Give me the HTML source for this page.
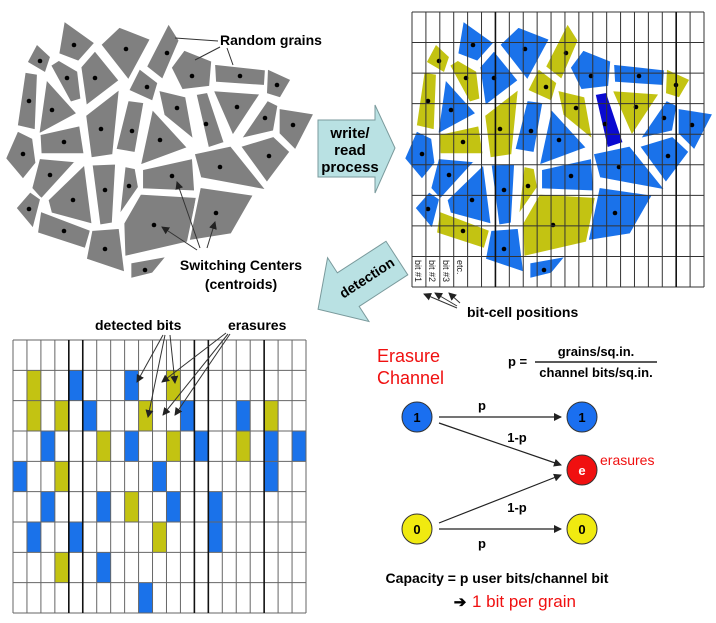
<!DOCTYPE html>
<html><head><meta charset="utf-8"><style>
html,body{margin:0;padding:0;background:#fff;}
svg{display:block;font-family:"Liberation Sans",Arial,sans-serif;}
.b{font-weight:bold;}
</style></head><body>
<svg id="s" width="716" height="623" viewBox="0 0 716 623" xmlns="http://www.w3.org/2000/svg">
<defs>
<marker id="ah" markerWidth="8" markerHeight="8" refX="7" refY="4" orient="auto" markerUnits="userSpaceOnUse"><path d="M0,0 L8,4 L0,8 z" fill="#222"/></marker>
</defs>
<g id="grainsL"></g>
<g id="grainsR"></g>
<g id="gridR"></g>
<g id="gridL"></g>

<text x="220" y="45" class="b" font-size="14">Random grains</text>
<g stroke="#333" stroke-width="1" fill="none">
<line x1="218" y1="41" x2="175" y2="38"/>
<line x1="220" y1="47" x2="195" y2="60"/>
<line x1="227" y1="48" x2="233" y2="65"/>
<line x1="197" y1="250" x2="162" y2="227" marker-end="url(#ah)"/>
<line x1="200" y1="248" x2="177" y2="182" marker-end="url(#ah)"/>
<line x1="207" y1="248" x2="215" y2="222" marker-end="url(#ah)"/>
</g>
<text x="241" y="270" class="b" font-size="14" text-anchor="middle">Switching Centers</text>
<text x="241" y="289" class="b" font-size="14" text-anchor="middle">(centroids)</text>

<polygon points="318,120 375,120 375,105 395,148 375,193 375,177 318,177" fill="#b9e1e3" stroke="#7a9a9c" stroke-width="1"/>
<text x="350" y="138" class="b" font-size="15" text-anchor="middle">write/</text>
<text x="350" y="155" class="b" font-size="15" text-anchor="middle">read</text>
<text x="350" y="172" class="b" font-size="15" text-anchor="middle">process</text>

<g transform="translate(360,282) rotate(-33)">
<polygon points="44,-20 -14,-20 -14,-38 -50,0 -14,38 -14,20 44,20" fill="#b9e1e3" stroke="#7a9a9c" stroke-width="1"/>
<text x="8" y="5" class="b" font-size="14" text-anchor="middle">detection</text>
</g>

<g font-size="9" fill="#222">
<text transform="translate(415,260) rotate(90)">bit #1</text>
<text transform="translate(429,260) rotate(90)">bit #2</text>
<text transform="translate(443,260) rotate(90)">bit #3</text>
<text transform="translate(457,260) rotate(90)">etc.</text>
</g>
<g stroke="#333" stroke-width="1">
<line x1="457" y1="308" x2="424" y2="294" marker-end="url(#ah)"/>
<line x1="457" y1="306" x2="435" y2="293" marker-end="url(#ah)"/>
<line x1="460" y1="303" x2="449" y2="293" marker-end="url(#ah)"/>
</g>
<text x="467" y="317" class="b" font-size="14">bit-cell positions</text>

<text x="95" y="330" class="b" font-size="14">detected bits</text>
<text x="228" y="330" class="b" font-size="14">erasures</text>
<g stroke="#333" stroke-width="1">
<line x1="163" y1="335" x2="137" y2="382" marker-end="url(#ah)"/>
<line x1="165" y1="335" x2="148" y2="417" marker-end="url(#ah)"/>
<line x1="170" y1="335" x2="175" y2="383" marker-end="url(#ah)"/>
<line x1="226" y1="333" x2="162" y2="382" marker-end="url(#ah)"/>
<line x1="228" y1="334" x2="163" y2="415" marker-end="url(#ah)"/>
<line x1="230" y1="334" x2="175" y2="415" marker-end="url(#ah)"/>
</g>

<text x="377" y="362" font-size="18" fill="#f01010">Erasure</text>
<text x="377" y="384" font-size="18" fill="#f01010">Channel</text>
<text x="508" y="366" class="b" font-size="13">p =</text>
<text x="596" y="356" class="b" font-size="13" text-anchor="middle">grains/sq.in.</text>
<line x1="535" y1="362" x2="657" y2="362" stroke="#222" stroke-width="1.5"/>
<text x="596" y="377" class="b" font-size="13" text-anchor="middle">channel bits/sq.in.</text>

<g stroke="#222" stroke-width="1.2">
<line x1="439" y1="417" x2="561" y2="417" marker-end="url(#ah)"/>
<line x1="439" y1="423" x2="561" y2="465" marker-end="url(#ah)"/>
<line x1="439" y1="523" x2="561" y2="475" marker-end="url(#ah)"/>
<line x1="439" y1="529" x2="561" y2="529" marker-end="url(#ah)"/>
</g>
<g stroke="#333" stroke-width="1">
<circle cx="417" cy="417" r="15" fill="#1a6ff0"/>
<circle cx="582" cy="417" r="15" fill="#1a6ff0"/>
<circle cx="582" cy="470" r="15" fill="#f01010"/>
<circle cx="417" cy="529" r="15" fill="#f0ea10"/>
<circle cx="582" cy="529" r="15" fill="#f0ea10"/>
</g>
<g class="b" font-size="13" text-anchor="middle">
<text x="417" y="422">1</text>
<text x="582" y="422">1</text>
<text x="582" y="475" fill="#fff">e</text>
<text x="417" y="534">0</text>
<text x="582" y="534">0</text>
<text x="482" y="410">p</text>
<text x="517" y="442">1-p</text>
<text x="517" y="512">1-p</text>
<text x="482" y="548">p</text>
</g>
<text x="600" y="465" font-size="14" fill="#f01010">erasures</text>
<text x="497" y="583" class="b" font-size="14" text-anchor="middle">Capacity = p user bits/channel bit</text>
<text x="460" y="607" class="b" font-size="15" text-anchor="middle">➔</text>
<text x="472" y="607" font-size="17" fill="#f01010">1 bit per grain</text>
</svg>
<script>
var NS="http://www.w3.org/2000/svg";
function el(p,t,a){var e=document.createElementNS(NS,t);for(var k in a)e.setAttribute(k,a[k]);p.appendChild(e);return e;}
var G=[
["b",[65,23,93,43,78,60,60,53],74,45],
["b",[103,45,120,29,148,40,128,77],126,49],
["y",[168,26,178,42,163,77,148,65],167,53],
["y",[28,62,37,45,50,57,45,72],40,61],
["y",[52,67,60,62,77,72,80,97,70,100],67,78],
["b",[82,68,95,53,117,80,87,103],95,78],
["y",[130,90,140,70,157,83,152,100],147,87],
["b",[173,68,185,52,210,62,208,85,183,88],192,76],
["b",[217,65,263,70,262,85,218,82],240,76],
["y",[268,70,290,80,280,97,267,93],277,85],
["y",[25,75,37,77,35,127,18,123],29,101],
["b",[47,82,75,113,40,132],52,110],
["y",[87,117,118,93,112,152,92,155],101,129],
["b",[128,103,143,105,135,150,117,147],132,131],
["y",[160,92,185,98,192,137,165,115],177,108],
["d",[197,97,208,95,223,140,208,145],206,124],
["y",[215,92,258,95,233,133],237,107],
["b",[267,102,277,107,273,130,243,137],265,118],
["b",[280,110,312,115,295,148,280,133],293,125],
["b",[7,158,18,133,32,140,35,162,23,177],23,154],
["y",[42,135,78,127,82,153,43,153],64,142],
["b",[153,112,185,147,142,163],160,140],
["b",[243,147,273,138,288,152,267,180],269,156],
["b",[197,155,230,148,262,188,203,177],220,167],
["b",[40,160,73,163,42,197,33,187],50,175],
["b",[50,200,83,168,90,222,53,212],73,200],
["b",[93,168,115,167,112,220,100,222],105,190],
["y",[125,168,135,170,138,187,120,213],129,186],
["b",[145,170,190,160,192,190,145,188],172,176],
["b",[17,208,30,193,40,200,33,227],29,209],
["y",[43,213,88,230,83,247,40,233],64,231],
["y",[127,223,142,197,192,200,185,240,128,253],154,225],
["b",[202,190,250,197,230,232,192,238],216,213],
["b",[93,232,118,230,123,270,88,258],105,249],
["b",[132,263,165,257,152,273,132,278],145,270]
];
var C={b:"#1a72ea",y:"#c3c312",d:"#0a0ad0"};
var gl=document.getElementById("grainsL"),gr=document.getElementById("grainsR");
var S=1.14;
G.forEach(function(g){
 var v=g[1],n=v.length/2,mx=0,my=0;
 for(var i=0;i<v.length;i+=2){mx+=v[i];my+=v[i+1];}
 mx/=n;my/=n;
 var pl=[],pr=[];
 for(var i=0;i<v.length;i+=2){var x=mx+(v[i]-mx)*S,y=my+(v[i+1]-my)*S;pl.push(x.toFixed(1),y.toFixed(1));pr.push((x+399).toFixed(1),y.toFixed(1));}
 el(gl,"polygon",{points:pl.join(","),fill:"#808080",stroke:"#fff","stroke-width":2.5,"stroke-linejoin":"round"});
 el(gr,"polygon",{points:pr.join(","),fill:C[g[0]],stroke:"#fff","stroke-width":2.5,"stroke-linejoin":"round"});
});
G.forEach(function(g){
 el(gl,"circle",{cx:g[2],cy:g[3],r:2.3,fill:"#000"});
 el(gr,"circle",{cx:g[2]+399,cy:g[3],r:2.3,fill:"#000"});
});
function grid(p,x0,y0,x1,y1,nc,nr,thick,sc){
 var cw=(x1-x0)/nc,rh=(y1-y0)/nr;
 for(var i=0;i<=nr;i++)el(p,"line",{x1:x0,y1:y0+i*rh,x2:x1,y2:y0+i*rh,stroke:sc,"stroke-width":1});
 for(var j=0;j<=nc;j++)el(p,"line",{x1:x0+j*cw,y1:y0,x2:x0+j*cw,y2:y1,stroke:(thick.indexOf(j)>=0?"#111":sc),"stroke-width":(thick.indexOf(j)>=0?1.6:1)});
}
var gR=document.getElementById("gridR");
grid(gR,412,12,704,287,21,9,[6,19],"#333");
var gL=document.getElementById("gridL");
var cells=[[1,1,"y"],[1,4,"b"],[1,8,"b"],[1,11,"y"],
[2,1,"y"],[2,3,"y"],[2,5,"b"],[2,9,"y"],[2,12,"b"],[2,16,"b"],[2,18,"y"],
[3,2,"b"],[3,6,"y"],[3,8,"b"],[3,11,"y"],[3,13,"b"],[3,16,"y"],[3,18,"b"],[3,20,"b"],
[4,0,"b"],[4,3,"y"],[4,10,"b"],[4,18,"b"],
[5,2,"b"],[5,6,"b"],[5,8,"y"],[5,11,"b"],[5,14,"b"],
[6,1,"b"],[6,4,"b"],[6,10,"y"],[6,14,"b"],
[7,3,"y"],[7,6,"b"],[8,9,"b"]];
var cw=(306-13)/21,rh=(613-340)/9;
cells.forEach(function(c){el(gL,"rect",{x:13+c[1]*cw,y:340+c[0]*rh,width:cw,height:rh,fill:C[c[2]]});});
grid(gL,13,340,306,613,21,9,[4,5,13,14,18],"#666");
</script>
</body></html>
